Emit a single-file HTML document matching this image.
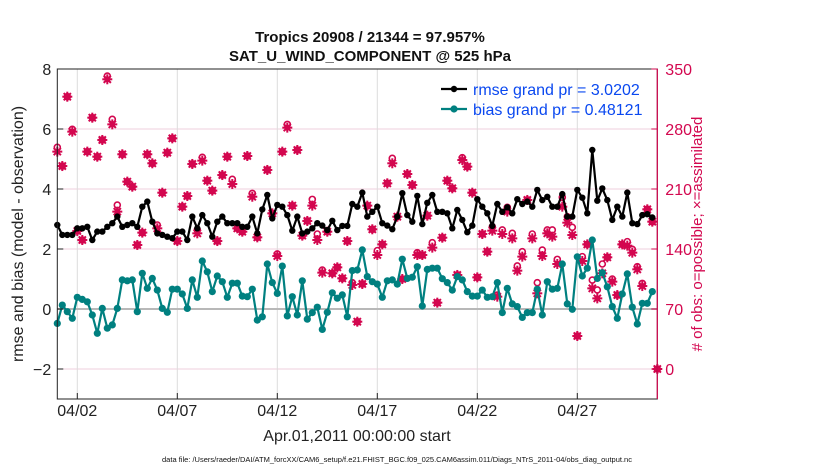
<!DOCTYPE html>
<html><head><meta charset="utf-8"><style>
body{margin:0;background:#fff;}
svg{display:block;font-family:"Liberation Sans",Arial,sans-serif;}
</style></head><body>
<svg id="chart" width="830" height="470"></svg>
<script>
const rmseVals=[2.8,2.47,2.47,2.47,2.69,2.69,2.74,2.3,2.58,2.58,2.74,2.86,3.08,2.74,2.8,2.86,2.74,3.41,3.58,2.91,2.52,2.47,2.41,2.36,2.58,2.58,2.3,3.08,2.69,3.13,2.86,2.41,2.91,3.08,2.86,2.86,2.86,2.74,2.74,3.08,
2.52,3.32,3.8,3.02,3.47,3.41,3.13,2.61,3.08,2.52,2.58,2.69,2.86,2.78,2.63,2.94,2.63,2.77,2.77,3.5,3.41,3.88,3.08,3.24,3.41,2.86,2.78,2.66,3.08,3.86,3.13,2.91,3.77,2.83,3.54,3.8,3.24,3.24,3.19,2.69,
3.3,2.97,2.56,2.78,3.66,3.41,3.19,2.77,3.5,3.24,3.39,3.19,3.66,3.5,3.58,3.41,3.97,3.63,3.74,3.41,3.41,3.83,3.08,3.08,3.97,3.71,3.19,5.3,3.61,4.02,3.63,2.97,3.41,3.08,3.88,2.86,2.83,3.13,3.16,3.05];
const biasVals=[-0.48,0.13,-0.09,-0.31,0.39,0.32,0.24,-0.2,-0.81,0.02,-0.64,-0.53,0.02,0.97,0.94,0.97,-0.09,1.19,0.69,1.02,0.63,0.02,-0.11,0.66,0.66,0.5,0.02,0.97,0.39,1.6,1.24,0.58,1.1,0.91,0.39,0.86,0.86,0.43,0.41,0.66,
-0.37,-0.26,1.5,0.88,0.52,1.43,-0.23,0.41,-0.2,0.94,-0.34,-0.12,0.06,-0.68,-0.11,0.54,0.36,0.47,-0.26,1.28,1.3,1.97,1.08,0.91,0.83,0.39,0.94,0.97,0.83,1.66,1.02,1.06,1.41,0.1,1.32,1.36,1.36,1.01,0.88,0.63,
1.08,0.97,0.58,0.43,0.43,0.63,0.39,0.41,0.88,-0.12,0.69,0.17,0.08,-0.28,-0.12,-0.12,0.66,-0.2,0.91,0.66,0.69,1.5,0.17,-0.01,1.74,1.1,1.36,2.3,1.02,1.21,0.74,0.08,-0.31,0.5,1.17,0.06,-0.5,0.19,0.19,0.58];
const obsIdx=[0,1,2,3,4,5,6,7,8,9,10,11,12,13,14,15,16,17,18,19,20,21,22,23,24,25,26,27,28,29,30,31,32,33,34,35,36,37,38,39,40,42,43,44,45,46,47,48,49,50,51,52,53,54,55,56,57,58,59,60,61,62,63,64,65,66,67,68,69,70,71,72,73,74,75,76,77,78,79,80,81,82,83,84,85,86,87,88,89,90,91,92,93,94,95,96,97,98,99,100,101,102,103,104,105,106,107,108,109,110,111,112,113,114,115,116,117,118,119,120];
const assimVals=[253.6,236.8,317.7,276.9,161,150.5,253.6,293.2,247.7,267.2,338,285.4,183.6,250.5,218.6,212.7,144.7,159.1,250.5,240,164.1,205.7,252.4,269.1,149.3,189.4,201.8,239.2,158.3,243.1,219.7,208.1,149.3,226.3,247.7,215.8,164.1,160.2,248.5,201,153.6,232.2,181.6,131.8,253.6,281.6,190.6,255.5,155.6,172.7,190.6,150.5,112.4,160.2,111.6,118.6,105.8,149.3,98,55.2,99.2,190.6,163,133,145.4,216.6,240,177.7,105,227.5,214.7,133,133,178.9,141.6,77.4,153.2,219.7,210.8,109.7,243.8,236.1,205.7,106.9,157.5,136.9,161.4,84.4,157.5,183.6,152.4,114.7,131.1,197.2,152.4,88.3,131.8,158.3,154.4,122.5,189.4,170.7,156.3,38.5,126,145.4,94.1,82.4,111.6,130.3,101.9,86.3,145.4,143.9,135.7,116.3,96.8,186.3,171.9,0];
const possVals=[258.6,236.8,317.7,279.6,161,150.5,253.6,293.2,247.7,267.2,341.8,291.3,191.3,250.5,218.6,212.7,144.7,159.1,250.5,240,168,205.7,252.4,269.1,149.3,189.4,201.8,239.2,162.2,247,219.7,208.1,149.3,226.3,247.7,221.3,164.1,160.2,248.5,204.9,153.6,232.2,181.6,134.2,253.6,285.4,190.6,255.5,155.6,172.7,197.9,157.5,115.5,160.2,111.6,118.6,105.8,149.3,100.7,55.2,99.2,190.6,163,138.1,145.4,216.6,245.8,177.7,105,227.5,214.7,135.7,133,178.9,147.4,77.4,153.2,219.7,210.8,109.7,246.6,236.1,205.7,106.9,157.5,136.9,166.1,86.3,162.2,188.6,158.3,120.2,136.9,197.2,157.5,100.7,138.8,162.2,162.2,127.9,200.3,177.7,165.3,38.5,131.1,145.4,103.8,92.2,122.5,130.3,105,86.3,145.4,148.6,139.6,119.4,99.9,186.3,171.9,0];
const leftTicks=[8,6,4,2,0,-2];
const rightTicks=[350,280,210,140,70,0];
const xTickDays=[1,6,11,16,21,26];
const xTickLabels=["04/02","04/07","04/12","04/17","04/22","04/27"];

const NS="http://www.w3.org/2000/svg";
const svg=document.getElementById('chart');
const L=57.3,R=657.3,T=69,B=399;
const X=d=>L+(d/30)*(R-L);
const Y=v=>309-v*30;
const YR=v=>Y(v/35-2);
const PINK="#d3074f",TEAL="#008080";
function mk(tag,attrs,parent){const e=document.createElementNS(NS,tag);for(const k in attrs)e.setAttribute(k,attrs[k]);(parent||svg).appendChild(e);return e;}
function txt(s,attrs,parent){const e=mk('text',attrs,parent);e.textContent=s;return e;}

// plot bg
let e=mk('rect',{x:L,y:T,width:R-L,height:B-T,fill:'#fff'});


// grid
leftTicks.forEach(v=>{if(v===0||v===8)return;e=mk('line',{x1:L,x2:R,y1:Y(v),y2:Y(v),stroke:'#efcfdc','stroke-width':1});

});
xTickDays.forEach(d=>{e=mk('line',{x1:X(d),x2:X(d),y1:T,y2:B,stroke:'#dcdcdc','stroke-width':1});

});
e=mk('line',{x1:L,x2:R,y1:Y(0),y2:Y(0),stroke:'#b8b8b8','stroke-width':2});



// obs markers
const gObs=mk('g',{});


obsIdx.forEach((idx,k)=>{
  const x=X(idx/4);
  const c=mk('circle',{cx:x,cy:YR(possVals[k]),r:3,fill:'#fff',stroke:PINK,'stroke-width':1.6},gObs);
  
  
  const y=YR(assimVals[k]);
  const g=mk('g',{stroke:PINK,'stroke-width':2},gObs);
  
  
  mk('line',{x1:x-5,x2:x+5,y1:y,y2:y},g);
  mk('line',{x1:x,x2:x,y1:y-5,y2:y+5},g);
  mk('line',{x1:x-3.6,x2:x+3.6,y1:y-3.6,y2:y+3.6},g);
  mk('line',{x1:x-3.6,x2:x+3.6,y1:y+3.6,y2:y-3.6},g);
  mk('circle',{cx:x,cy:y,r:3,fill:PINK,stroke:'none'},g);
});

function series(vals,color,name,r){
  const g=mk('g',{});
  
  
  const pts=vals.map((v,i)=>X(i/4)+','+Y(v)).join(' ');
  mk('polyline',{points:pts,fill:'none',stroke:color,'stroke-width':2.2,'stroke-linejoin':'round'},g);
  vals.forEach((v,i)=>{const c=mk('circle',{cx:X(i/4),cy:Y(v),r:r,fill:color},g);
  
  });
}
series(biasVals,TEAL,'bias-series',3.6);
series(rmseVals,'#000','rmse-series',3.2);

// axes frame
e=mk('rect',{x:L,y:T,width:R-L,height:B-T,fill:'none',stroke:'#222','stroke-width':1});


e=mk('line',{x1:R,x2:R,y1:T,y2:B,stroke:PINK,'stroke-width':1.2});


// ticks
leftTicks.forEach(v=>{mk('line',{x1:L,x2:L+6,y1:Y(v),y2:Y(v),stroke:'#222'});
e=txt(String(v).replace('-','\u2212'),{x:L-6,y:Y(v)+6,'text-anchor':'end','font-size':16,fill:'#222'});

});
rightTicks.forEach(v=>{mk('line',{x1:R-6,x2:R,y1:YR(v),y2:YR(v),stroke:PINK});
e=txt(String(v),{x:R+8,y:YR(v)+6,'font-size':16,fill:PINK});

});
xTickDays.forEach((d,i)=>{mk('line',{x1:X(d),x2:X(d),y1:B-6,y2:B,stroke:'#222'});
e=txt(xTickLabels[i],{x:X(d),y:B+17,'text-anchor':'middle','font-size':16,fill:'#222'});

});
</script>
<svg width="830" height="470" style="position:absolute;left:0;top:0;pointer-events:none;font-family:'Liberation Sans',Arial,sans-serif">
<text x="370" y="42" text-anchor="middle" font-size="15" font-weight="bold" fill="#111">Tropics 20908 / 21344 = 97.957%</text>
<text x="370" y="61" text-anchor="middle" font-size="15" font-weight="bold" fill="#111">SAT_U_WIND_COMPONENT @ 525 hPa</text>
<text transform="translate(23,234) rotate(-90)" text-anchor="middle" font-size="16" fill="#222">rmse and bias (model - observation)</text>
<text transform="translate(702,234) rotate(-90)" text-anchor="middle" font-size="15" fill="#d3074f"># of obs: o=possible; ×=assimilated</text>
<text x="357" y="441" text-anchor="middle" font-size="16" fill="#222">Apr.01,2011 00:00:00 start</text>
<text x="397" y="462" text-anchor="middle" font-size="7.5" fill="#111">data file: /Users/raeder/DAI/ATM_forcXX/CAM6_setup/f.e21.FHIST_BGC.f09_025.CAM6assim.011/Diags_NTrS_2011-04/obs_diag_output.nc</text>
<g>
<line x1="441" x2="467" y1="89" y2="89" stroke="#000" stroke-width="2.2"/><circle cx="454" cy="89" r="3.2" fill="#000"/>
<text x="473" y="95" font-size="16" fill="#0a48f0">rmse grand pr = 3.0202</text>
<line x1="441" x2="467" y1="109" y2="109" stroke="#008080" stroke-width="2.2"/><circle cx="454" cy="109" r="3.6" fill="#008080"/>
<text x="473" y="115" font-size="16" fill="#0a48f0">bias grand pr = 0.48121</text>
</g>
</svg>
</body></html>
